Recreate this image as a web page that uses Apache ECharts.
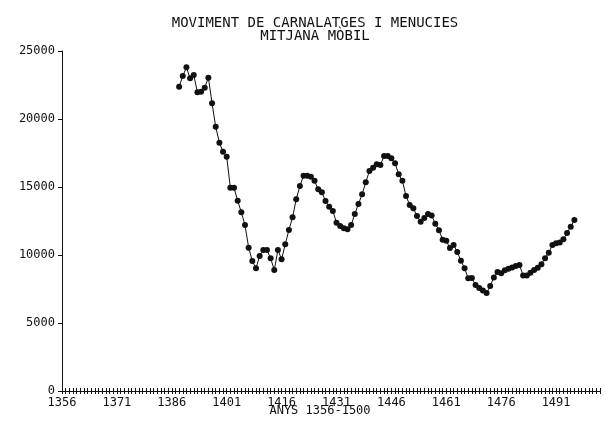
<!DOCTYPE html>
<html>
<head>
<meta charset="utf-8">
<script src="https://cdn.jsdelivr.net/npm/echarts@6/dist/echarts.min.js"></script>
<style>
html,body{margin:0;padding:0;background:#fff;}
#chart{width:606px;height:427px;}
</style>
</head>
<body>
<div id="chart"></div>
<script>
// Axis range (years)
const axisStartYear = 1356;
const axisEndYear = 1503;
// First year with data
const dataStartYear = 1388;
// Moving-average values, one per year from 1388 to 1496
const movingAverage = [
  22370, 23160, 23800, 22990, 23240, 21960, 22010, 22300, 23040, 21150,
  19430, 18260, 17600, 17230, 14950, 14950, 13990, 13140, 12210, 10540,
  9560, 9020, 9930, 10370, 10370, 9760, 8900, 10370, 9680, 10790,
  11840, 12770, 14100, 15070, 15830, 15830, 15760, 15460, 14830, 14610,
  13970, 13550, 13240, 12380, 12130, 11960, 11890, 12210, 13010, 13750,
  14460, 15350, 16180, 16420, 16670, 16620, 17280, 17280, 17110, 16740,
  15930, 15460, 14340, 13680, 13430, 12870, 12450, 12720, 13010, 12900,
  12300, 11820, 11130, 11050, 10510, 10740, 10220, 9580, 9020, 8290,
  8310, 7790, 7570, 7390, 7210, 7720, 8350, 8750, 8650, 8880,
  8990, 9080, 9190, 9260, 8490, 8490, 8700, 8900, 9070, 9320,
  9760, 10170, 10740, 10860, 10920, 11150, 11620, 12080, 12570
];
const yTicks = [0, 5000, 10000, 15000, 20000, 25000];
const titleLines = ['MOVIMENT DE CARNALATGES I MENUCIES', 'MITJANA MÒBIL'];
const xAxisTitle = 'ANYS 1356-1500';

const years = [];
for (let y = axisStartYear; y <= axisEndYear; y++) years.push(String(y));
const seriesData = years.map(function (y) {
  const i = Number(y) - dataStartYear;
  return (i >= 0 && i < movingAverage.length) ? movingAverage[i] : null;
});

const FONT = 'DejaVu Sans Mono';
const chart = echarts.init(document.getElementById('chart'), null, {renderer: 'canvas'});
chart.setOption({
  animation: false,
  backgroundColor: '#ffffff',
  title: {
    text: titleLines.join('\n'),
    left: 310,
    top: 12,
    textAlign: 'center',
    textStyle: {fontFamily: FONT, fontSize: 14, fontWeight: 'normal', color: '#111', lineHeight: 13}
  },
  grid: {left: 62, right: 6, top: 51, bottom: 36, containLabel: false},
  xAxis: [{
    type: 'category',
    data: years,
    boundaryGap: false,
    position: 'bottom',
    axisLine: {show: true, lineStyle: {color: '#111', width: 1}},
    axisTick: {show: true, interval: 0, length: 3, lineStyle: {color: '#111'}},
    axisLabel: {interval: 14, margin: 6, fontFamily: FONT, fontSize: 12, color: '#111', hideOverlap: false},
    splitLine: {show: false}
  }, {
    type: 'category',
    data: years,
    boundaryGap: false,
    position: 'bottom',
    offset: 0,
    gridIndex: 0,
    axisLine: {show: false},
    axisTick: {show: true, inside: true, interval: 0, length: 3, lineStyle: {color: '#111'}},
    axisLabel: {show: false},
    splitLine: {show: false}
  }],
  yAxis: {
    type: 'value',
    min: yTicks[0],
    max: yTicks[yTicks.length - 1],
    interval: yTicks[1] - yTicks[0],
    axisLine: {show: true, lineStyle: {color: '#111', width: 1}},
    axisTick: {show: true, length: 4, lineStyle: {color: '#111'}},
    axisLabel: {margin: 7, fontFamily: FONT, fontSize: 12, color: '#111', formatter: function (v) { return String(v); }},
    splitLine: {show: false}
  },
  graphic: [{
    type: 'text',
    x: 320,
    y: 411,
    style: {text: xAxisTitle, font: '12px "DejaVu Sans Mono"', fill: '#111', textAlign: 'center', textVerticalAlign: 'middle'}
  }],
  series: [{
    type: 'line',
    xAxisIndex: 0,
    data: seriesData,
    symbol: 'circle',
    symbolSize: 6,
    showAllSymbol: true,
    lineStyle: {color: '#111', width: 1},
    itemStyle: {color: '#111'},
    connectNulls: false
  }]
});
</script>
</body>
</html>
